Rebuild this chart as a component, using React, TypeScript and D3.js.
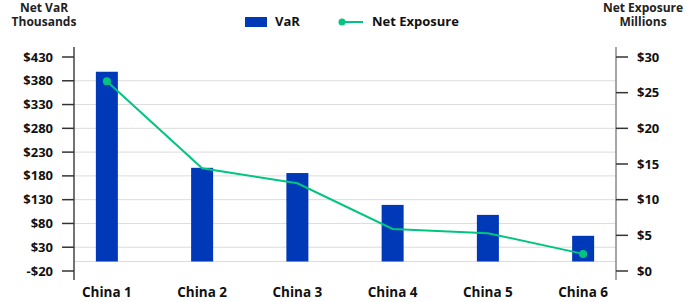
import React, { useEffect, useRef } from "react";
import * as d3 from "d3";

const categories = ["China 1", "China 2", "China 3", "China 4", "China 5", "China 6"];
const varValues = [399, 197, 186, 119, 98, 54];
const exposureValues = [26.6, 14.4, 12.3, 5.9, 5.3, 2.4];
const leftTicks = [-20, 30, 80, 130, 180, 230, 280, 330, 380, 430];
const rightTicks = [0, 5, 10, 15, 20, 25, 30];

const width = 700;
const height = 302;
const barColor = "#0039b8";
const lineColor = "#00c57f";
const font = "'Open Sans', sans-serif";

const App = () => {
  const ref = useRef<SVGSVGElement>(null);

  useEffect(() => {
    const svg = d3.select(ref.current);
    svg.selectAll("*").remove();

    const left = 74;
    const right = 616;
    const top = 57;
    const bottom = 271;

    const x = d3.scalePoint<string>().domain(categories).range([left, right]).padding(0.345);
    const yL = d3.scaleLinear().domain([-20, 430]).range([bottom, top]);
    const yR = d3.scaleLinear().domain([0, 30]).range([bottom, top]);

    // gridlines
    const grid = leftTicks.filter(t => t > -20 && t < 430).concat([0]);
    svg
      .append("g")
      .selectAll("line")
      .data(grid)
      .join("line")
      .attr("x1", left)
      .attr("x2", right)
      .attr("y1", d => yL(d))
      .attr("y2", d => yL(d))
      .attr("stroke", "#dcdcdc")
      .attr("stroke-width", 1);

    // bars
    const bw = 22;
    svg
      .append("g")
      .selectAll("rect")
      .data(varValues)
      .join("rect")
      .attr("x", (d, i) => x(categories[i])! - bw / 2)
      .attr("width", bw)
      .attr("y", d => yL(d))
      .attr("height", d => yL(0) - yL(d))
      .attr("fill", barColor);

    // line, markers only at the ends
    const line = d3
      .line<number>()
      .x((d, i) => x(categories[i])!)
      .y(d => yR(d));
    svg
      .append("path")
      .datum(exposureValues)
      .attr("d", line)
      .attr("fill", "none")
      .attr("stroke", lineColor)
      .attr("stroke-width", 2);
    const last = exposureValues.length - 1;
    svg
      .append("g")
      .selectAll("circle")
      .data(exposureValues.map((v, i) => ({ v, i })).filter(d => d.i === 0 || d.i === last))
      .join("circle")
      .attr("cx", d => x(categories[d.i])!)
      .attr("cy", d => yR(d.v))
      .attr("r", 4)
      .attr("fill", lineColor);

    // left axis
    const gl = svg.append("g").attr("transform", `translate(${left},0)`);
    gl.append("line").attr("y1", 47).attr("y2", 280).attr("stroke", "#444").attr("stroke-width", 1.5);
    gl.selectAll("line.t")
      .data(leftTicks)
      .join("line")
      .attr("class", "t")
      .attr("x1", -12)
      .attr("x2", 0)
      .attr("y1", d => yL(d))
      .attr("y2", d => yL(d))
      .attr("stroke", "#333")
      .attr("stroke-width", 1.5);
    gl.selectAll("text")
      .data(leftTicks)
      .join("text")
      .attr("x", -21)
      .attr("y", d => yL(d))
      .attr("dy", "0.35em")
      .attr("text-anchor", "end")
      .attr("font-family", font)
      .attr("font-weight", 700)
      .attr("font-size", 13)
      .attr("fill", "#111")
      .text(d => (d < 0 ? `-$${-d}` : `$${d}`));

    // right axis
    const gr = svg.append("g").attr("transform", `translate(${right},0)`);
    gr.append("line").attr("y1", 47).attr("y2", 280).attr("stroke", "#888").attr("stroke-width", 1.5);
    gr.selectAll("line.t")
      .data(rightTicks)
      .join("line")
      .attr("class", "t")
      .attr("x1", 0)
      .attr("x2", 12)
      .attr("y1", d => yR(d))
      .attr("y2", d => yR(d))
      .attr("stroke", "#333")
      .attr("stroke-width", 1.5);
    gr.selectAll("text")
      .data(rightTicks)
      .join("text")
      .attr("x", 21)
      .attr("y", d => yR(d))
      .attr("dy", "0.35em")
      .attr("font-family", font)
      .attr("font-weight", 700)
      .attr("font-size", 13)
      .attr("fill", "#111")
      .text(d => `$${d}`);

    // x labels
    svg
      .append("g")
      .selectAll("text")
      .data(categories)
      .join("text")
      .attr("x", d => x(d)!)
      .attr("y", 297)
      .attr("text-anchor", "middle")
      .attr("font-family", font)
      .attr("font-weight", 700)
      .attr("font-size", 13.5)
      .attr("fill", "#111")
      .text(d => d);

    // axis titles
    const titles = [
      { x: 44, lines: ["Net VaR", "Thousands"] },
      { x: 643, lines: ["Net Exposure", "Millions"] }
    ];
    titles.forEach(t => {
      t.lines.forEach((s, i) => {
        svg
          .append("text")
          .attr("x", t.x)
          .attr("y", 12 + i * 14)
          .attr("text-anchor", "middle")
          .attr("font-family", font)
          .attr("font-weight", 700)
          .attr("font-size", 12)
          .attr("fill", "#222")
          .text(s);
      });
    });

    // legend
    const lg = svg.append("g");
    lg.append("rect").attr("x", 245).attr("y", 17).attr("width", 22).attr("height", 10).attr("fill", barColor);
    lg.append("text")
      .attr("x", 275)
      .attr("y", 26)
      .attr("font-family", font)
      .attr("font-weight", 700)
      .attr("font-size", 13)
      .attr("fill", "#111")
      .text("VaR");
    lg.append("line").attr("x1", 340).attr("x2", 363).attr("y1", 22).attr("y2", 22).attr("stroke", lineColor).attr("stroke-width", 2);
    lg.append("circle").attr("cx", 342).attr("cy", 22).attr("r", 3.5).attr("fill", lineColor);
    lg.append("text")
      .attr("x", 372)
      .attr("y", 26)
      .attr("font-family", font)
      .attr("font-weight", 700)
      .attr("font-size", 13)
      .attr("fill", "#111")
      .text("Net Exposure");
  }, []);

  return (
    <svg
      ref={ref}
      width={width}
      height={height}
      viewBox={`0 0 ${width} ${height}`}
      style={{ position: "absolute", left: 0, top: 0, display: "block" }}
    ></svg>
  );
};

export default App;
